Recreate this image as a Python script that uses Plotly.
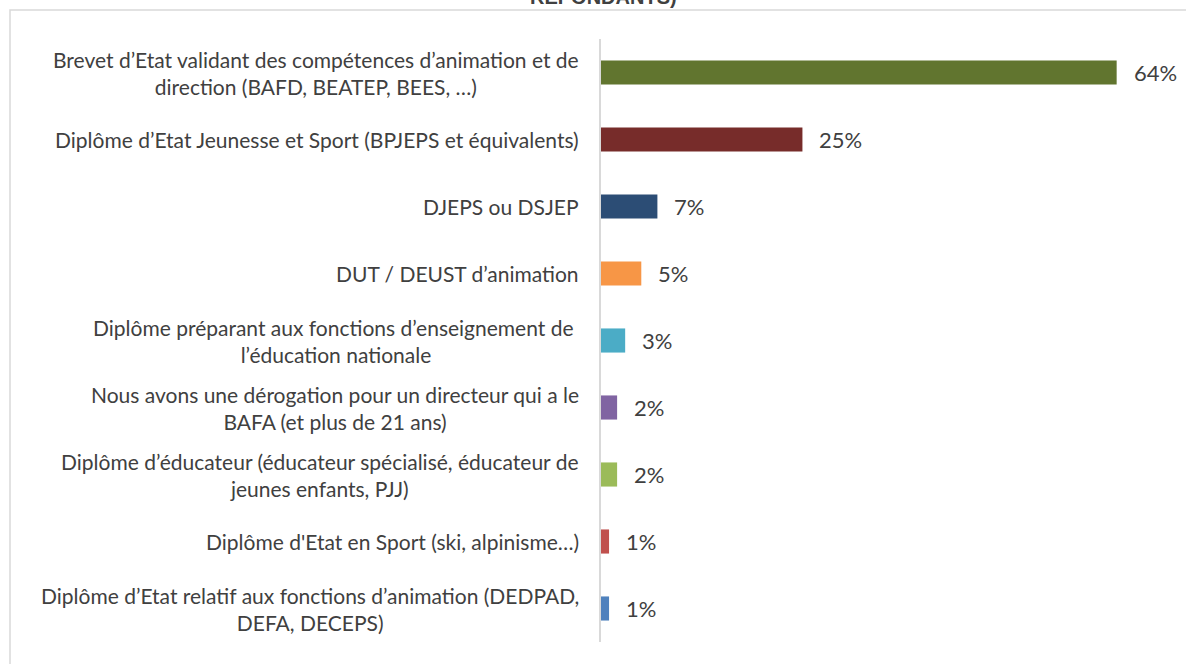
import plotly.graph_objects as go

categories = [
    "Brevet d’Etat validant des compétences d’animation et de<br>direction (BAFD, BEATEP, BEES, …)",
    "Diplôme d’Etat Jeunesse et Sport (BPJEPS et équivalents)",
    "DJEPS ou DSJEP",
    "DUT / DEUST d’animation",
    "Diplôme préparant aux fonctions d’enseignement de <br>l’éducation nationale",
    "Nous avons une dérogation pour un directeur qui a le<br>BAFA (et plus de 21 ans)",
    "Diplôme d’éducateur (éducateur spécialisé, éducateur de<br>jeunes enfants, PJJ)",
    "Diplôme d'Etat en Sport (ski, alpinisme…)",
    "Diplôme d’Etat relatif aux fonctions d’animation (DEDPAD,<br>DEFA, DECEPS)",
]
values = [64, 25, 7, 5, 3, 2, 2, 1, 1]
value_labels = ["64%", "25%", "7%", "5%", "3%", "2%", "2%", "1%", "1%"]
colors = ["#61752F", "#772C2A", "#2C4D75", "#F79646", "#4BACC6",
          "#8064A2", "#9BBB59", "#C0504D", "#4F81BD"]
title_text = "REPONDANTS)"

ids = [f"c{i}" for i in range(len(categories))]

fig = go.Figure(go.Bar(
    x=values, y=ids, orientation="h",
    marker=dict(color=colors, line=dict(width=0)),
    width=0.36, hoverinfo="skip",
))

TXT = "#404040"
FONT = "Lato"

annotations = []
for cid, lab in zip(ids, categories):
    annotations.append(dict(
        x=0, xref="paper", y=cid, yref="y", text=lab, showarrow=False,
        xanchor="right", yanchor="middle", align="center", xshift=-20,
        font=dict(family=FONT, size=21, color=TXT),
    ))
for cid, v, t in zip(ids, values, value_labels):
    annotations.append(dict(
        x=v, xref="x", y=cid, yref="y", text=t, showarrow=False,
        xanchor="left", yanchor="middle", xshift=15,
        font=dict(family=FONT, size=22, color=TXT),
    ))
annotations.append(dict(
    x=(603 - 601) / 564, xref="paper", y=1, yref="paper", text=title_text,
    showarrow=False, xanchor="center", yanchor="bottom", yshift=29,
    font=dict(family="Liberation Sans", size=20, color=TXT, weight="bold"),
))

fig.update_layout(
    width=1186, height=664,
    margin=dict(l=601, r=21, t=39, b=22),
    paper_bgcolor="white", plot_bgcolor="white",
    showlegend=False,
    xaxis=dict(range=[0, 70], visible=False, fixedrange=True),
    yaxis=dict(categoryorder="array", categoryarray=ids, autorange="reversed",
               showticklabels=False, showgrid=False, zeroline=False,
               showline=True, linecolor="#D9D9D9", linewidth=2, ticks="",
               fixedrange=True),
    annotations=annotations,
    shapes=[dict(type="rect", xref="paper", yref="paper",
                 x0=(10 - 601) / 564, x1=1.1, y0=-0.08, y1=(642 - 10) / 603,
                 line=dict(color="#D9D9D9", width=1.5), layer="below")],
)

fig.write_html("out.html", config={"displayModeBar": False},
               post_script="document.body.style.margin='0';")
